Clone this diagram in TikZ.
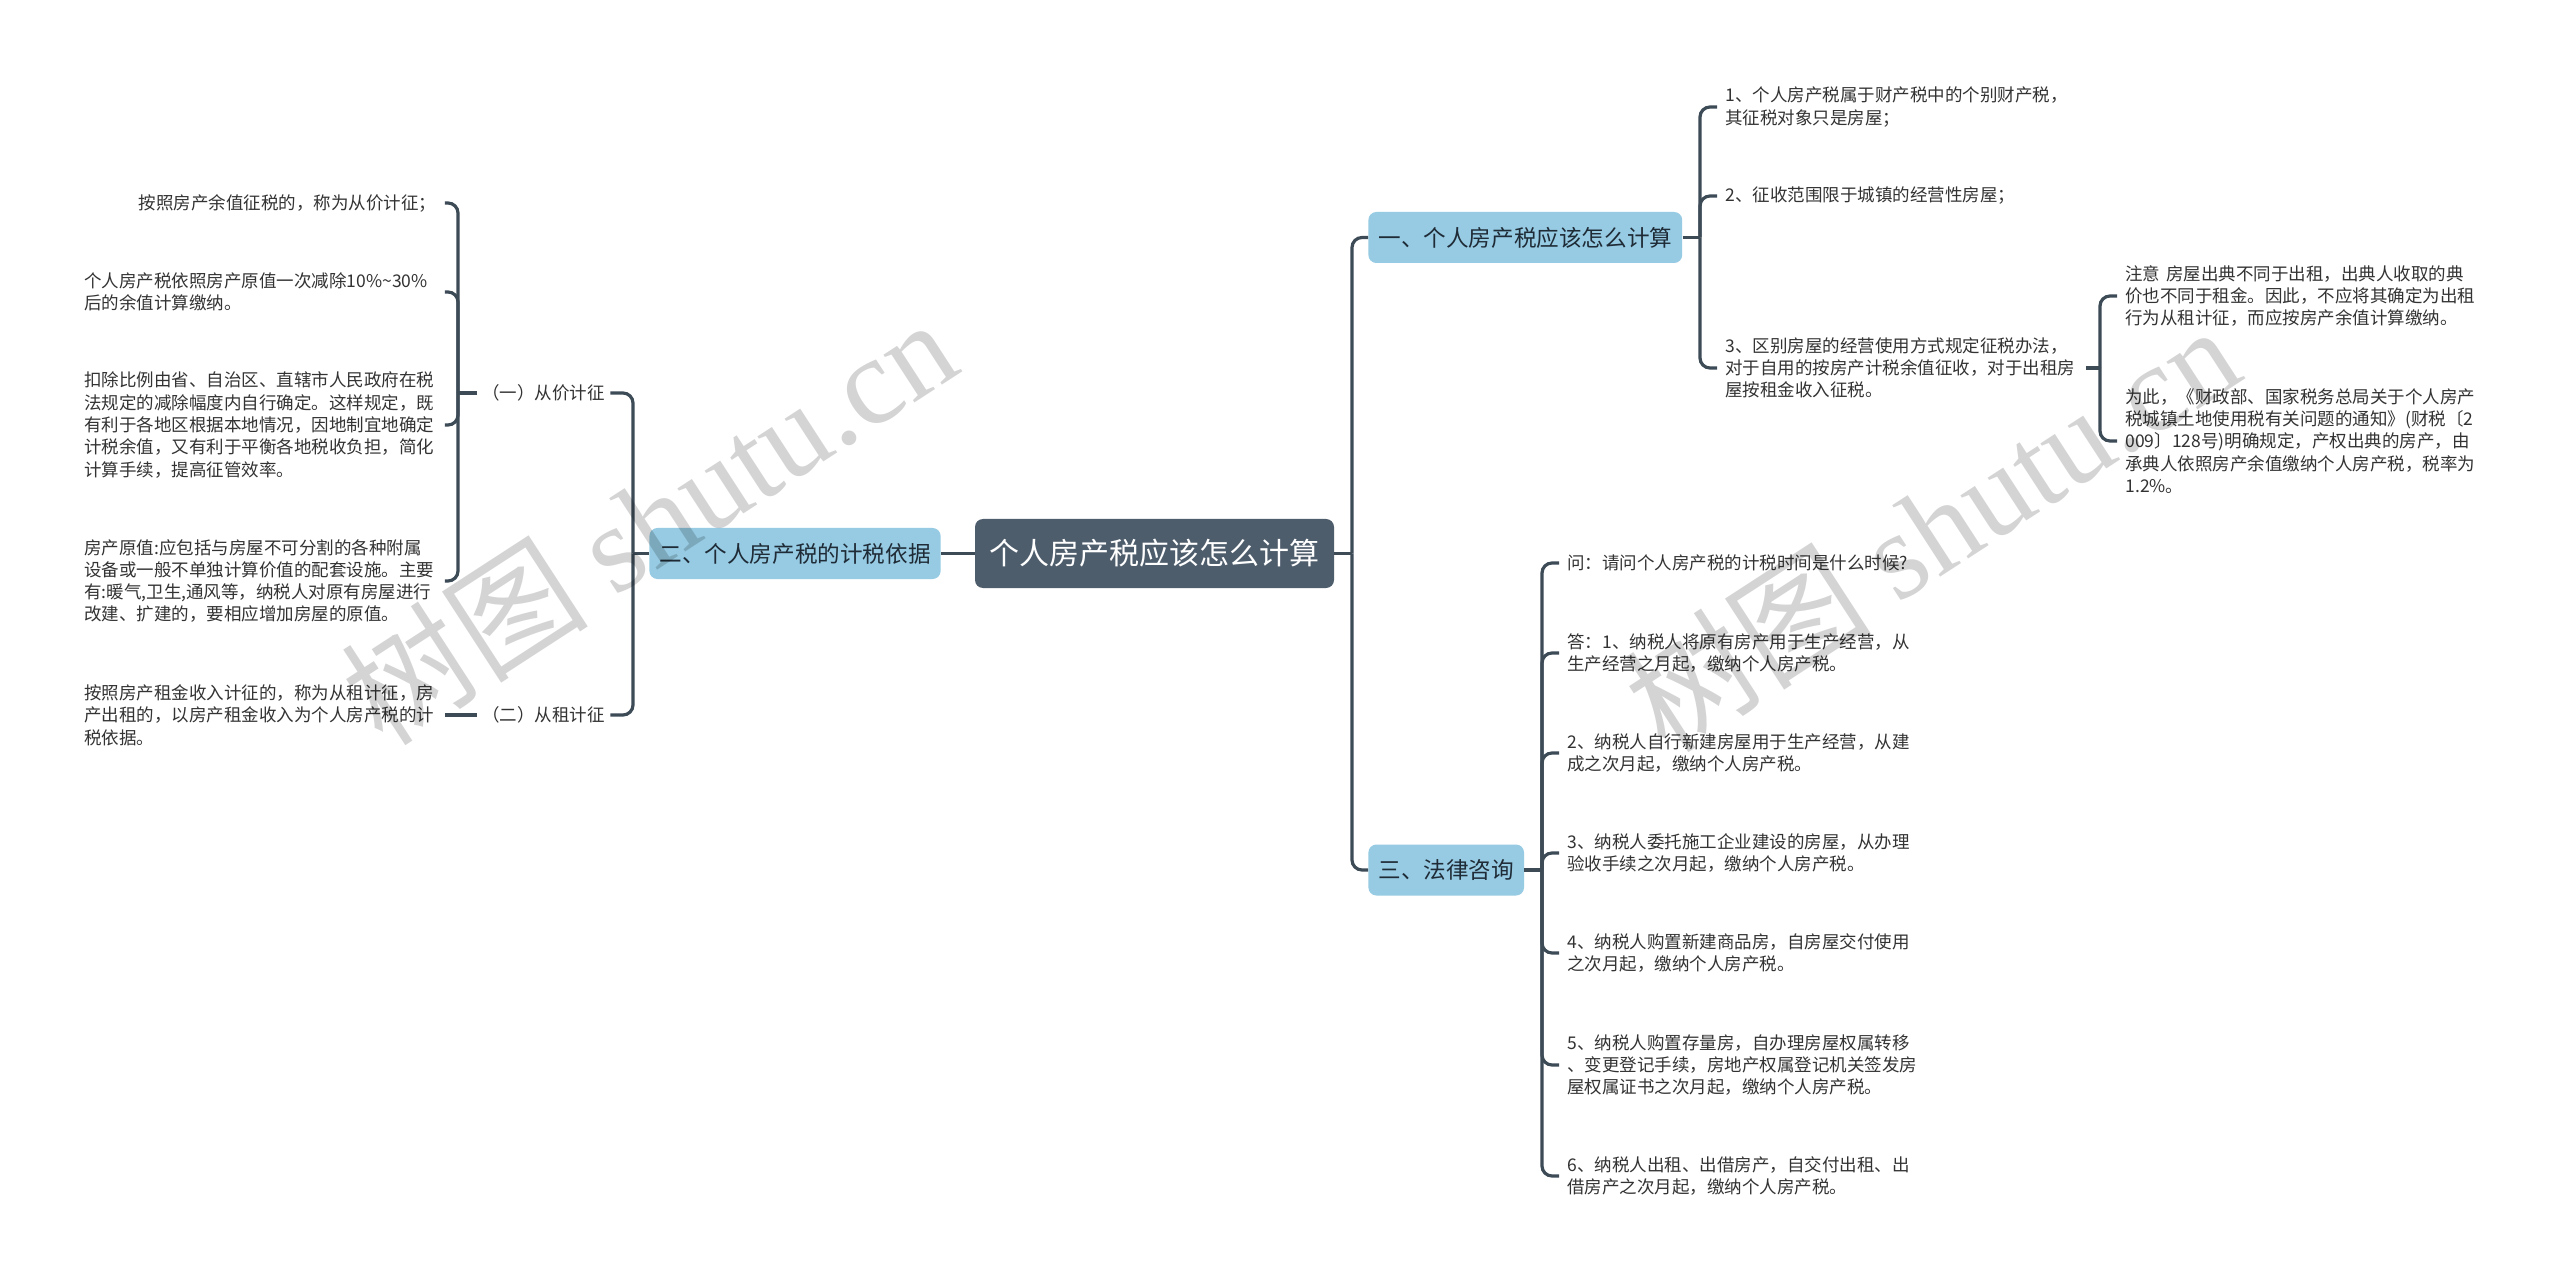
\documentclass[tikz,border=0pt]{standalone}
\usepackage{fontspec}
\setmainfont{Noto Sans CJK SC}
\newfontfamily\wmlatin{Liberation Serif}
\definecolor{lineC}{HTML}{3D4B57}
\definecolor{rootC}{HTML}{4E5D6C}
\definecolor{mainC}{HTML}{96CBE3}
\definecolor{textC}{HTML}{333333}
\definecolor{mainT}{HTML}{1F2B36}
\begin{document}
\begin{tikzpicture}[x=0.5pt,y=-0.5pt,
  conn/.style={draw=lineC, line width=1.6pt, rounded corners=5pt},
  rootbox/.style={fill=rootC, rounded corners=4pt, text=white,
    font=\fontsize{15pt}{18pt}\selectfont, inner xsep=7.25pt, inner ysep=0pt, minimum height=34.5pt},
  mainbox/.style={fill=mainC, rounded corners=4pt, text=mainT,
    font=\fontsize{11.3pt}{14pt}\selectfont, inner xsep=5pt, inner ysep=0pt, minimum height=25.5pt},
  leaf/.style={text=textC, font=\fontsize{8.75pt}{11.15pt}\selectfont, align=left,
    inner xsep=4pt, inner ysep=0pt, text width=176pt},
  sublabel/.style={text=textC, font=\fontsize{8.75pt}{11pt}\selectfont, inner xsep=2.5pt, inner ysep=2pt},
  wmark/.style={text=black, text opacity=0.17, rotate=33, font=\fontsize{62pt}{66pt}\selectfont}
]
\useasboundingbox (0,0) rectangle (2560,1283);
\fill[white] (0,0) rectangle (2560,1283);

% root and main topics
\node[rootbox] (root) at (1154.5,553.5) {个人房产税应该怎么计算};
\node[mainbox, anchor=east] (n2) at (941,553.5) {二、个人房产税的计税依据};
\node[mainbox, anchor=west] (n1) at (1368,237.5) {一、个人房产税应该怎么计算};
\node[mainbox, anchor=west] (n3) at (1368,870) {三、法律咨询};

% left side
\node[sublabel, anchor=west] (s1) at (477,393) {（一）从价计征};
\node[sublabel, anchor=west] (s2) at (477,715) {（二）从租计征};

\node[leaf, anchor=west, align=right] (a1) at (76,203) {按照房产余值征税的，称为从价计征；};
\node[leaf, anchor=west] (a2) at (76,292) {个人房产税依照房产原值一次减除10\%\textasciitilde30\%\\后的余值计算缴纳。};
\node[leaf, anchor=west] (a3) at (76,425) {扣除比例由省、自治区、直辖市人民政府在税\\法规定的减除幅度内自行确定。这样规定，既\\有利于各地区根据本地情况，因地制宜地确定\\计税余值，又有利于平衡各地税收负担，简化\\计算手续，提高征管效率。};
\node[leaf, anchor=west] (a4) at (76,581) {房产原值:应包括与房屋不可分割的各种附属\\设备或一般不单独计算价值的配套设施。主要\\有:暖气,卫生,通风等，纳税人对原有房屋进行\\改建、扩建的，要相应增加房屋的原值。};
\node[leaf, anchor=west] (a5) at (76,715) {按照房产租金收入计征的，称为从租计征，房\\产出租的，以房产租金收入为个人房产税的计\\税依据。};

% right upper
\node[leaf, anchor=west] (b1) at (1717,107) {1、个人房产税属于财产税中的个别财产税，\\其征税对象只是房屋；};
\node[leaf, anchor=west] (b2) at (1717,196) {2、征收范围限于城镇的经营性房屋；};
\node[leaf, anchor=west] (b3) at (1717,368) {3、区别房屋的经营使用方式规定征税办法，\\对于自用的按房产计税余值征收，对于出租房\\屋按租金收入征税。};
\node[leaf, anchor=west] (c1) at (2117,296) {注意 房屋出典不同于出租，出典人收取的典\\价也不同于租金。因此，不应将其确定为出租\\行为从租计征，而应按房产余值计算缴纳。};
\node[leaf, anchor=west] (c2) at (2117,441) {为此，《财政部、国家税务总局关于个人房产\\税城镇土地使用税有关问题的通知》(财税〔2\\009〕128号)明确规定，产权出典的房产，由\\承典人依照房产余值缴纳个人房产税，税率为\\1.2\%。};

% right lower
\node[leaf, anchor=west] (q1) at (1559,563) {问：请问个人房产税的计税时间是什么时候?};
\node[leaf, anchor=west] (q2) at (1559,653) {答：1、纳税人将原有房产用于生产经营，从\\生产经营之月起，缴纳个人房产税。};
\node[leaf, anchor=west] (q3) at (1559,753) {2、纳税人自行新建房屋用于生产经营，从建\\成之次月起，缴纳个人房产税。};
\node[leaf, anchor=west] (q4) at (1559,853) {3、纳税人委托施工企业建设的房屋，从办理\\验收手续之次月起，缴纳个人房产税。};
\node[leaf, anchor=west] (q5) at (1559,953) {4、纳税人购置新建商品房，自房屋交付使用\\之次月起，缴纳个人房产税。};
\node[leaf, anchor=west] (q6) at (1559,1065) {5、纳税人购置存量房，自办理房屋权属转移\\、变更登记手续，房地产权属登记机关签发房\\屋权属证书之次月起，缴纳个人房产税。};
\node[leaf, anchor=west] (q7) at (1559,1176) {6、纳税人出租、出借房产，自交付出租、出\\借房产之次月起，缴纳个人房产税。};

% junction points
\coordinate (jR) at (1352,553.5);
\coordinate (j2) at (633,553.5);
\coordinate (js1) at (458,393);
\coordinate (j1) at (1700,237.5);
\coordinate (jb3) at (2100,368);
\coordinate (j3) at (1542,870);

% connectors
\draw[conn] (n2.east) -- (root.west);
\draw[conn] (root.east) -- (jR);
\draw[conn] (jR) |- (n1.west);
\draw[conn] (jR) |- (n3.west);

\draw[conn] (n2.west) -- (j2);
\draw[conn] (j2) |- (s1.east);
\draw[conn] (j2) |- (s2.east);

\draw[conn] (s1.west) -- (js1);
\foreach \t in {a1,a2,a3,a4} \draw[conn] (js1) |- (\t.east);
\draw[conn] (s2.west) -- (a5.east);

\draw[conn] (n1.east) -- (j1);
\foreach \t in {b1,b2,b3} \draw[conn] (j1) |- (\t.west);
\draw[conn] (b3.east) -- (jb3);
\foreach \t in {c1,c2} \draw[conn] (jb3) |- (\t.west);

\draw[conn] (n3.east) -- (j3);
\foreach \t in {q1,q2,q3,q4,q5,q6,q7} \draw[conn] (j3) |- (\t.west);

% watermarks
\node[wmark] (wm1) at (648,520) {树图 {\wmlatin shutu.cn}};
\node[wmark] (wm2) at (1931,527) {树图 {\wmlatin shutu.cn}};
\end{tikzpicture}
\end{document}
